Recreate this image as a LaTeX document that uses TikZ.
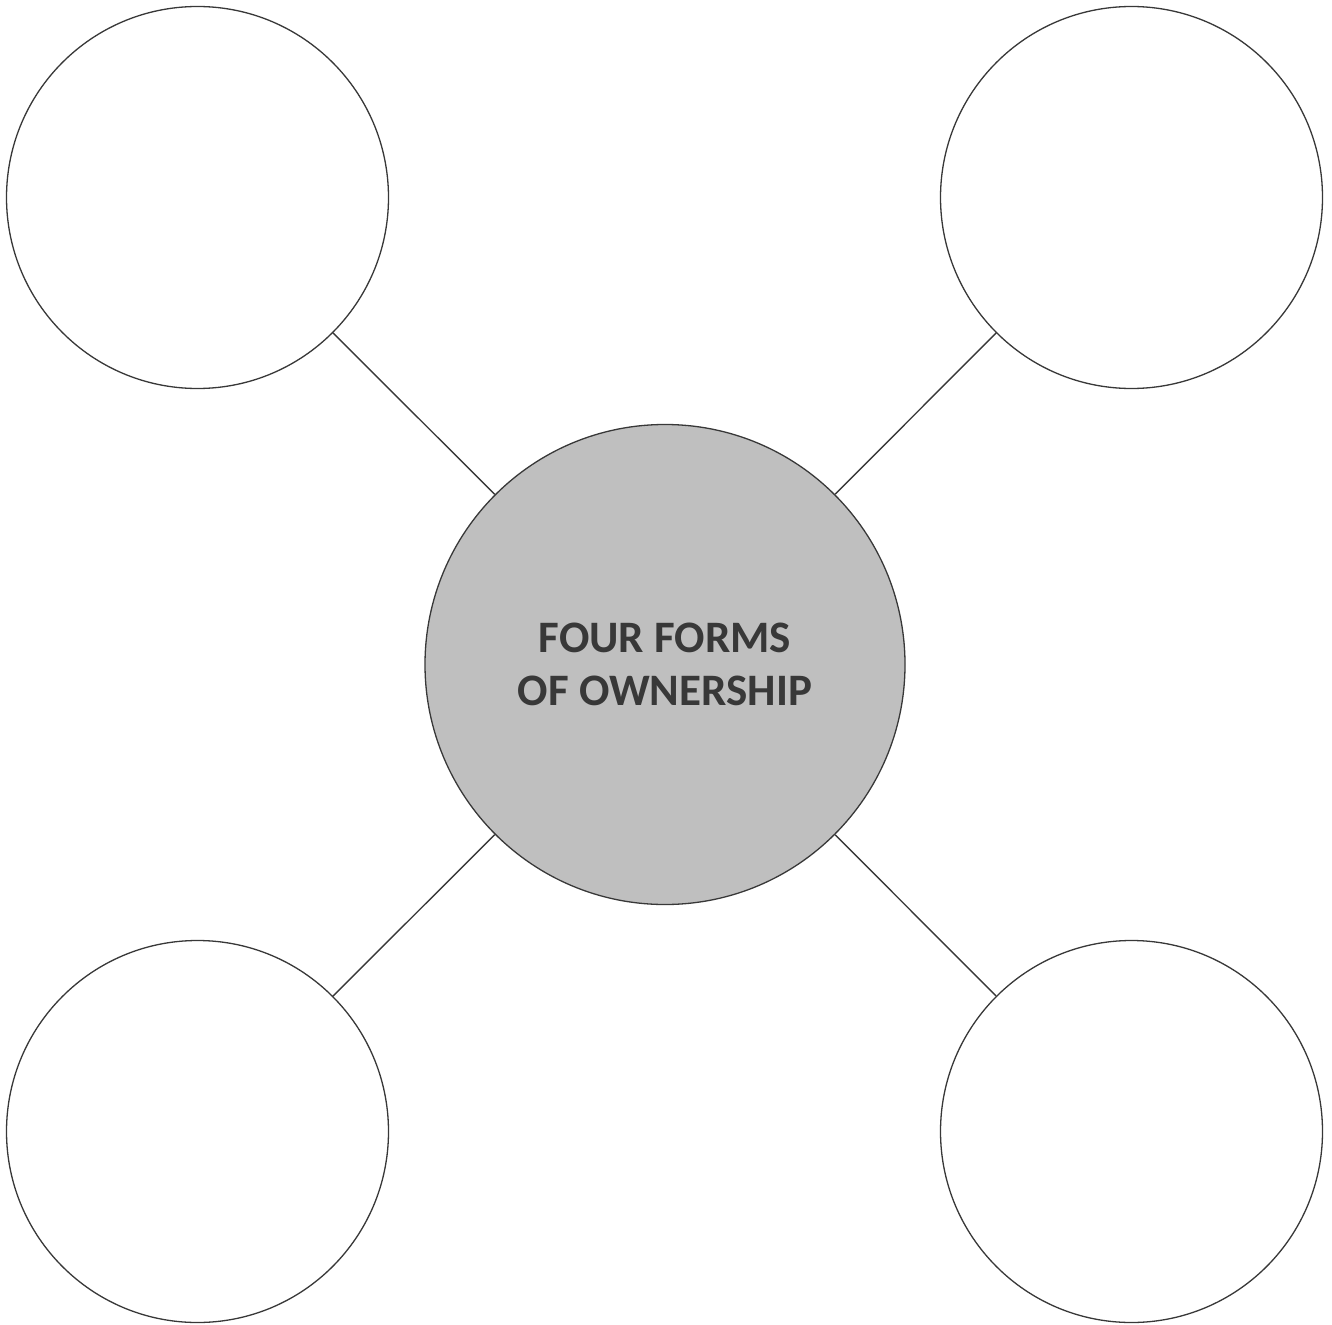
\documentclass[tikz,border=0pt]{standalone}
\usepackage{fontspec}
\setmainfont{Carlito}[BoldFont=Carlito Bold]
\begin{document}
\begin{tikzpicture}[x=1pt,y=-1pt,
  outer/.style={circle,draw=black!78,line width=1.3pt,fill=white,minimum size=382pt,inner sep=0pt},
  hub/.style={circle,draw=black!78,line width=1.3pt,fill=black!25,minimum size=480pt,inner sep=0pt,
    font=\bfseries\fontsize{45}{53}\selectfont,text=black!78,align=center},
  link/.style={draw=black!78,line width=1.4pt}]
\useasboundingbox (0,0) rectangle (1332,1324);
\node[hub] (c) at (665,664.5) {FOUR FORMS\\OF OWNERSHIP};
\node[outer] (tl) at (197.5,197.5) {};
\node[outer] (tr) at (1131.5,197.5) {};
\node[outer] (bl) at (197.5,1131.5) {};
\node[outer] (br) at (1131.5,1131.5) {};
\draw[link] (tl) -- (c);
\draw[link] (tr) -- (c);
\draw[link] (bl) -- (c);
\draw[link] (br) -- (c);
\end{tikzpicture}
\end{document}
